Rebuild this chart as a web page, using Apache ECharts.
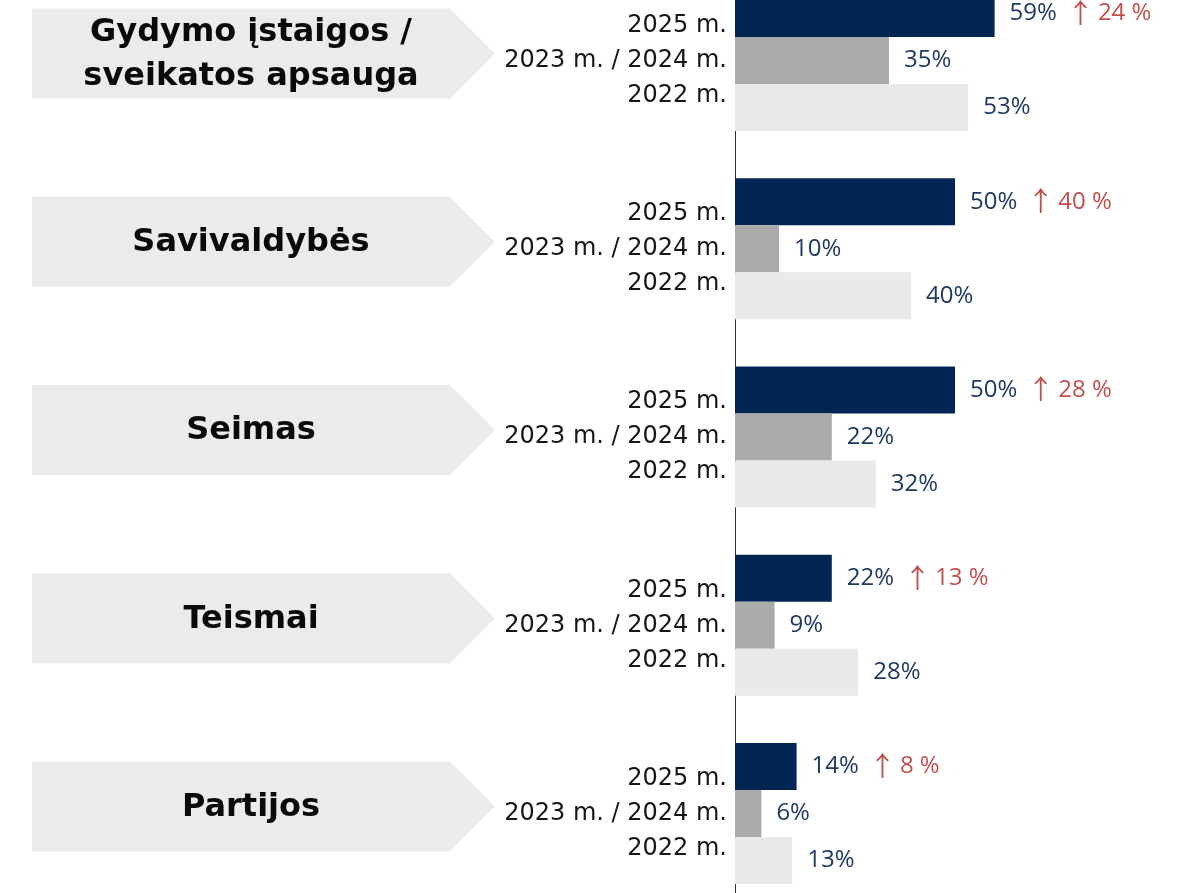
<!DOCTYPE html>
<html>
<head>
<meta charset="utf-8">
<script src="https://cdn.jsdelivr.net/npm/echarts@6/dist/echarts.min.js"></script>
<style>
  html, body { margin: 0; padding: 0; background: #ffffff; }
  #chart { width: 1181px; height: 893px; }
</style>
</head>
<body>
<div id="chart"></div>
<script>
// Institutions (top to bottom)
const categories = [
  'Gydymo įstaigos /\nsveikatos apsauga',
  'Savivaldybės',
  'Seimas',
  'Teismai',
  'Partijos'
];
// Survey waves
const waveLabels = ['2025 m.', '2023 m. / 2024 m.', '2022 m.'];
// Shares, %
const values2025 = [59, 50, 50, 22, 14];
const values2023_24 = [35, 10, 22, 9, 6];
const values2022 = [53, 40, 32, 28, 13];
// Change 2025 vs 2023/2024, percentage points
const change = [24, 40, 28, 13, 8];

const NAVY = '#022654';
const MID = '#ababab';
const LIGHT = '#e9e9e9';
const LABEL = '#1f3a60';
const RED = '#c0504d';

const chart = echarts.init(document.getElementById('chart'));

const GRID_TOP = -33.6;
const GRID_H = 941.25;

const valueLabel = {
  show: true,
  position: 'right',
  distance: 15,
  fontFamily: 'Open Sans',
  fontSize: 24,
  color: LABEL,
  formatter: p => p.value + '%'
};

chart.setOption({
  animation: false,
  backgroundColor: '#ffffff',
  grid: [
    { left: 735, top: GRID_TOP, width: 440, height: GRID_H, containLabel: false, outerBoundsMode: 'none' },
    { left: 0, top: GRID_TOP, width: 495, height: GRID_H, containLabel: false, outerBoundsMode: 'none' }
  ],
  xAxis: [
    { gridIndex: 0, type: 'value', min: 0, max: 100, show: false },
    { gridIndex: 1, type: 'value', min: 0, max: 1, show: false }
  ],
  yAxis: [
    {
      gridIndex: 0,
      type: 'category',
      data: categories,
      inverse: true,
      axisLine: { show: true, lineStyle: { color: '#333333', width: 1 } },
      axisTick: { show: false },
      axisLabel: {
        margin: 8,
        align: 'right',
        fontFamily: 'DejaVu Sans',
        fontSize: 24,
        lineHeight: 35,
        color: '#161616',
        formatter: () => waveLabels.join('\n')
      },
      splitLine: { show: false }
    },
    {
      gridIndex: 1,
      type: 'category',
      data: categories,
      inverse: true,
      show: false
    }
  ],
  series: [
    {
      name: '2025 m.',
      type: 'bar',
      data: values2025,
      barWidth: 47,
      barGap: '0%',
      itemStyle: { color: NAVY },
      label: {
        ...valueLabel,
        formatter: p => '{v|' + p.value + '%}{a|↑}{d|' + change[p.dataIndex] + ' %}',
        rich: {
          v: { fontFamily: 'Open Sans', fontSize: 24, color: LABEL },
          a: { fontFamily: 'Noto Sans CJK SC', fontSize: 27, color: RED, padding: [0, 0, 2, 10] },
          d: { fontFamily: 'Open Sans', fontSize: 24, color: RED, padding: [0, 0, 0, 4] }
        }
      }
    },
    {
      name: '2023 m. / 2024 m.',
      type: 'bar',
      data: values2023_24,
      barWidth: 47,
      barGap: '0%',
      itemStyle: { color: MID },
      label: valueLabel
    },
    {
      name: '2022 m.',
      type: 'bar',
      data: values2022,
      barWidth: 47,
      barGap: '0%',
      itemStyle: { color: LIGHT },
      label: valueLabel
    },
    {
      // Arrow-shaped category tags on the left
      type: 'custom',
      xAxisIndex: 1,
      yAxisIndex: 1,
      clip: false,
      data: categories.map((c, i) => [0, i]),
      renderItem: (params, api) => {
        const cs = params.coordSys;
        const cy = api.coord([0, api.value(1)])[1] - 7;
        const x0 = cs.x + 32;
        const x1 = cs.x + cs.width;
        const tip = 45;
        const h = 90;
        const name = categories[api.value(1)];
        return {
          type: 'group',
          children: [
            {
              type: 'polygon',
              shape: {
                points: [
                  [x0, cy - h / 2],
                  [x1 - tip, cy - h / 2],
                  [x1, cy],
                  [x1 - tip, cy + h / 2],
                  [x0, cy + h / 2]
                ]
              },
              style: { fill: '#ebebeb' }
            },
            {
              type: 'text',
              x: (x0 + x1 - tip) / 2 + 10,
              y: cy + 1,
              style: {
                text: name,
                fontFamily: 'DejaVu Sans',
                fontWeight: 'bold',
                fontSize: 32,
                lineHeight: 44,
                fill: '#0a0a0a',
                align: 'center',
                verticalAlign: 'middle'
              }
            }
          ]
        };
      }
    }
  ]
});
</script>
</body>
</html>
